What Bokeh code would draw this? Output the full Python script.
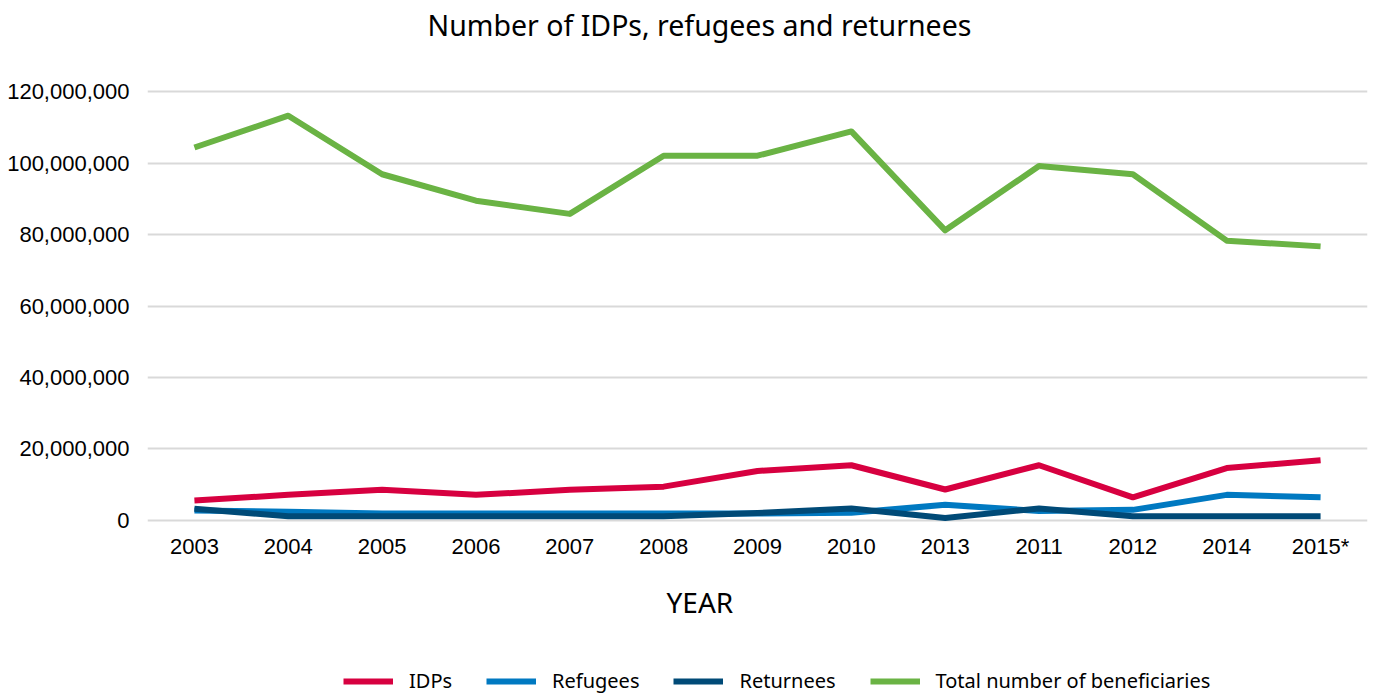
from bokeh.plotting import figure
from bokeh.models import FactorRange, Range1d, NumeralTickFormatter, FixedTicker, Legend, LegendItem, Title
from bokeh.layouts import column
from bokeh.embed import file_html
from bokeh.resources import INLINE

years = ["2003", "2004", "2005", "2006", "2007", "2008", "2009", "2010", "2013", "2011", "2012", "2014", "2015*"]
idps = [5.5e6, 7.1e6, 8.5e6, 7.1e6, 8.5e6, 9.4e6, 13.8e6, 15.4e6, 8.6e6, 15.4e6, 6.4e6, 14.6e6, 16.8e6]
refugees = [2.7e6, 2.4e6, 1.9e6, 1.9e6, 1.9e6, 1.9e6, 1.9e6, 2.1e6, 4.3e6, 2.6e6, 2.9e6, 7.1e6, 6.4e6]
returnees = [3.2e6, 1.1e6, 1.1e6, 1.1e6, 1.1e6, 1.1e6, 2.0e6, 3.3e6, 0.6e6, 3.3e6, 1.1e6, 1.1e6, 1.1e6]
total = [104.4e6, 113.3e6, 96.9e6, 89.5e6, 85.8e6, 102.1e6, 102.1e6, 108.9e6, 81.2e6, 99.2e6, 96.9e6, 78.3e6, 76.7e6]
y_ticks = [0, 20e6, 40e6, 60e6, 80e6, 100e6, 120e6]

series = [
    ("IDPs", idps, "#D70040"),
    ("Refugees", refugees, "#0079C1"),
    ("Returnees", returnees, "#004A77"),
    ("Total number of beneficiaries", total, "#6AB344"),
]

p = figure(width=1378, height=650, output_backend="svg", toolbar_location=None,
           x_range=FactorRange(factors=years, range_padding=0),
           y_range=Range1d(-1.2e6, 121.2e6),
           min_border_left=147, min_border_right=11, min_border_top=87, min_border_bottom=126)
p.outline_line_color = None
p.background_fill_color = "white"

# top: spacer nearest the frame, then the title
p.add_layout(Title(text=" ", text_font_size="20px", standoff=17), "above")
p.add_layout(Title(text="Number of IDPs, refugees and returnees", align="left", offset=280,
                   text_font="Noto Sans", text_font_style="normal", text_font_size="28.5px",
                   text_color="#000000", standoff=6), "above")

p.xgrid.grid_line_color = None
p.ygrid.grid_line_color = "#D9D9D9"
p.ygrid.grid_line_width = 2
p.yaxis.ticker = FixedTicker(ticks=y_ticks)
p.yaxis.formatter = NumeralTickFormatter(format="0,0")

for ax in (p.xaxis[0], p.yaxis[0]):
    ax.axis_line_color = None
    ax.major_tick_line_color = None
    ax.minor_tick_line_color = None
    ax.major_label_text_font = "Liberation Sans"
    ax.major_label_text_font_size = "22px"
    ax.major_label_text_color = "#000000"
p.yaxis.major_label_standoff = 12
p.xaxis.major_label_standoff = 3

p.add_layout(Title(text="YEAR", align="left", offset=519, text_font="Noto Sans",
                   text_font_style="normal", text_font_size="28px", text_color="#000000",
                   standoff=39), "below")

for name, vals, color in series:
    p.line(years, vals, line_color=color, line_width=6, line_join="round")

# legend strip below the chart
lg = figure(width=1378, height=45, output_backend="svg", toolbar_location=None,
            x_range=FactorRange(factors=years, range_padding=0),
            y_range=Range1d(200e6, 300e6),
            min_border_left=0, min_border_right=0, min_border_top=0, min_border_bottom=0)
lg.outline_line_color = None
lg.axis.visible = False
lg.grid.grid_line_color = None
items = []
for name, vals, color in series:
    r = lg.line(years, vals, line_color=color, line_width=6)
    items.append(LegendItem(label=name, renderers=[r]))
legend = Legend(items=items, orientation="horizontal", location=(196, 1),
                glyph_width=50, glyph_height=20, label_standoff=16, spacing=34,
                padding=0, margin=0, border_line_color=None, background_fill_alpha=0,
                label_text_font="Noto Sans", label_text_font_size="20px", label_text_color="#000000")
lg.add_layout(legend, "center")

layout = column(p, lg, spacing=0)
open("out.html", "w").write(file_html(layout, INLINE))
